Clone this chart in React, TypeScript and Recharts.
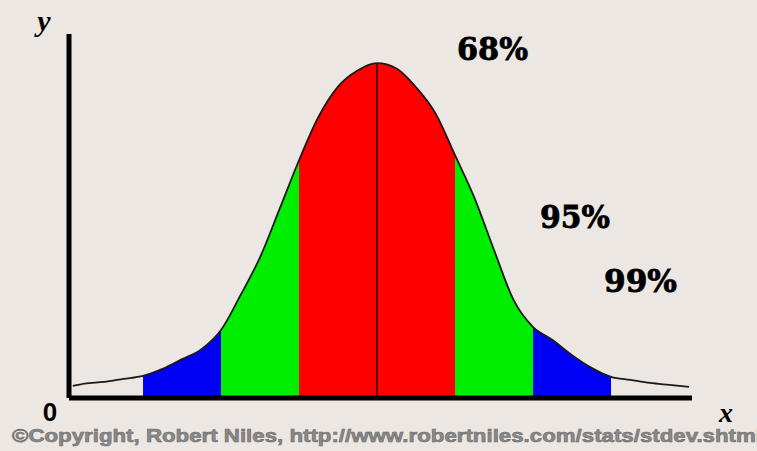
import React from "react";
import {
  ComposedChart,
  Area,
  Line,
  XAxis,
  YAxis,
  ReferenceLine,
  Customized,
} from "recharts";

// position along x in standard deviations from the mean
const sigmaSteps = [
  -3.9, -3.75, -3.5, -3.25, -3, -2.75, -2.5, -2.25, -2, -1.75, -1.5, -1.25, -1,
  -0.75, -0.5, -0.25, 0, 0.25, 0.5, 0.75, 1, 1.25, 1.5, 1.75, 2, 2.25, 2.5, 2.75,
  3, 3.25, 3.5, 3.75, 4,
];
// curve height, percent of the peak
const curveHeights = [
  3.6, 4.3, 4.8, 5.7, 6.6, 8.7, 11.6, 14.6, 20.3, 30.7, 42, 56.4, 71, 84, 93,
  97.8, 100, 98.4, 92.8, 85, 72.5, 59.7, 44.2, 29.3, 21.2, 17.3, 12.8, 9, 6.3,
  5.4, 4.5, 3.9, 3.3,
];
// band limits in standard deviations
const redLimit = 1;
const greenLimit = 2;
const blueLimit = 3;

const bandLabels = ["68%", "95%", "99%"];
const axisLabels = { y: "y", origin: "0", x: "x" };
const credit =
  "\u00A9Copyright, Robert Niles, http://www.robertniles.com/stats/stdev.shtml";

const data = sigmaSteps.map((s, i) => {
  const h = curveHeights[i];
  const a = Math.abs(s);
  return {
    s,
    curve: h,
    red: a <= redLimit ? h : null,
    green: a >= redLimit && a <= greenLimit ? h : null,
    blue: a >= greenLimit && a <= blueLimit ? h : null,
  };
});

const Overlay = () => (
  <g>
    <text x={44} y={31} fontFamily="Liberation Serif" fontWeight="bold" fontStyle="italic" fontSize={30} textAnchor="middle" fill="#000">
      {axisLabels.y}
    </text>
    <text x={50} y={421} fontFamily="Liberation Sans" fontWeight="bold" fontSize={26} textAnchor="middle" fill="#000">
      {axisLabels.origin}
    </text>
    <text x={726} y={422} fontFamily="Liberation Serif" fontWeight="bold" fontStyle="italic" fontSize={28} textAnchor="middle" fill="#000">
      {axisLabels.x}
    </text>
    <text x={457} y={60} fontFamily="DejaVu Serif" fontWeight="bold" fontSize={31} textLength={71} lengthAdjust="spacingAndGlyphs" fill="#000" stroke="#000" strokeWidth={0.8}>
      {bandLabels[0]}
    </text>
    <text x={540} y={228} fontFamily="DejaVu Serif" fontWeight="bold" fontSize={31} textLength={70} lengthAdjust="spacingAndGlyphs" fill="#000" stroke="#000" strokeWidth={0.8}>
      {bandLabels[1]}
    </text>
    <text x={604} y={292} fontFamily="DejaVu Serif" fontWeight="bold" fontSize={31} textLength={73} lengthAdjust="spacingAndGlyphs" fill="#000" stroke="#000" strokeWidth={0.8}>
      {bandLabels[2]}
    </text>
    <text x={12} y={442} fontFamily="Liberation Sans" fontWeight="bold" fontSize={19} textLength={750} lengthAdjust="spacingAndGlyphs" fill="#8a8a8a" stroke="#6a6a6a" strokeWidth={0.6}>
      {credit}
    </text>
  </g>
);

export default function App() {
  return (
    <div style={{ position: "absolute", left: 0, top: 0, width: 757, height: 451, background: "#ECE7E3" }}>
      <ComposedChart
        width={757}
        height={451}
        data={data}
        margin={{ top: 34, right: 65, bottom: 52, left: 68 }}
      >
        <XAxis
          dataKey="s"
          type="number"
          domain={[-3.949, 4.038]}
          allowDataOverflow
          height={1}
          tick={false}
          tickLine={false}
          axisLine={{ stroke: "#000", strokeWidth: 5 }}
        />
        <YAxis
          type="number"
          domain={[0, 108.7]}
          allowDataOverflow
          width={1}
          tick={false}
          tickLine={false}
          axisLine={{ stroke: "#000", strokeWidth: 5 }}
        />
        <Area dataKey="blue" type="monotone" fill="#0000F4" fillOpacity={1} stroke="none" isAnimationActive={false} connectNulls={false} />
        <Area dataKey="green" type="monotone" fill="#00EE00" fillOpacity={1} stroke="none" isAnimationActive={false} connectNulls={false} />
        <Area dataKey="red" type="monotone" fill="#FF0000" fillOpacity={1} stroke="none" isAnimationActive={false} connectNulls={false} />
        <Line dataKey="curve" type="monotone" stroke="#1a1a1a" strokeWidth={1.8} dot={false} activeDot={false} isAnimationActive={false} />
        <ReferenceLine
          segment={[{ x: 0, y: 0 }, { x: 0, y: 100 }]}
          stroke="#5a0000"
          strokeWidth={2}
        />
        <Customized component={Overlay} />
      </ComposedChart>
    </div>
  );
}
